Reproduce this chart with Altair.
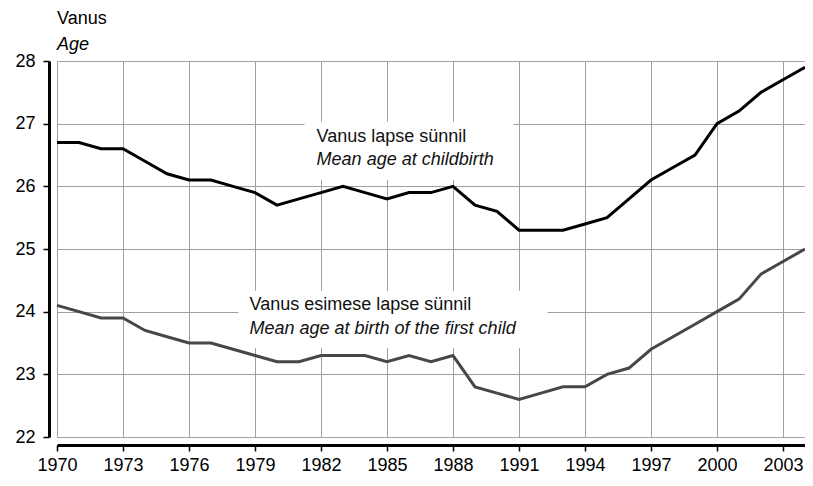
import altair as alt
import pandas as pd

years = list(range(1970, 2005))
childbirth = [26.7, 26.7, 26.6, 26.6, 26.4, 26.2, 26.1, 26.1, 26.0, 25.9,
              25.7, 25.8, 25.9, 26.0, 25.9, 25.8, 25.9, 25.9, 26.0, 25.7,
              25.6, 25.3, 25.3, 25.3, 25.4, 25.5, 25.8, 26.1, 26.3, 26.5,
              27.0, 27.2, 27.5, 27.7, 27.9]
first_child = [24.1, 24.0, 23.9, 23.9, 23.7, 23.6, 23.5, 23.5, 23.4, 23.3,
               23.2, 23.2, 23.3, 23.3, 23.3, 23.2, 23.3, 23.2, 23.3, 22.8,
               22.7, 22.6, 22.7, 22.8, 22.8, 23.0, 23.1, 23.4, 23.6, 23.8,
               24.0, 24.2, 24.6, 24.8, 25.0]

series_names = ["Vanus lapse sünnil", "Vanus esimese lapse sünnil"]
series_colors = ["#000000", "#474747"]

x_ticks = list(range(1970, 2004, 3))
y_ticks = [22, 23, 24, 25, 26, 27, 28]

# annotation label text (Estonian / English) and anchors in data space
label_est = ["Vanus lapse sünnil", "Vanus esimese lapse sünnil"]
label_eng = ["Mean age at childbirth", "Mean age at birth of the first child"]
label_year = [1981.8, 1978.75]
label_val_est = [26.70, 24.02]
label_val_eng = [26.34, 23.65]
box_x1 = [1981.25, 1978.25]
box_x2 = [1990.75, 1992.3]
box_y1 = [27.03, 24.33]
box_y2 = [26.10, 23.42]

df = pd.DataFrame({
    "year": years * 2,
    "value": childbirth + first_child,
    "series": [series_names[0]] * len(years) + [series_names[1]] * len(years),
})
lab = pd.DataFrame({
    "est": label_est, "eng": label_eng, "year": label_year,
    "v_est": label_val_est, "v_eng": label_val_eng,
    "bx1": box_x1, "bx2": box_x2, "by1": box_y1, "by2": box_y2,
})

FONT = "Liberation Sans"
FS = 18

xscale = alt.Scale(domain=[1970, 2004], nice=False, zero=False)
yscale = alt.Scale(domain=[22, 28], nice=False, zero=False)

base_axis = dict(
    domainColor="black", domainWidth=3, tickColor="black", tickWidth=1.5,
    tickSize=6, labelFont=FONT, labelFontSize=FS, labelColor="black",
    gridColor="#a0a0a0", gridWidth=1, title=None, format="d", labelFlush=False,
)

lines = alt.Chart(df).mark_line(strokeWidth=3, strokeJoin="miter").encode(
    x=alt.X("year:Q", scale=xscale,
            axis=alt.Axis(values=x_ticks, offset=8, labelPadding=5, **base_axis)),
    y=alt.Y("value:Q", scale=yscale,
            axis=alt.Axis(values=y_ticks, offset=8, labelPadding=8, **base_axis)),
    color=alt.Color("series:N", scale=alt.Scale(domain=series_names, range=series_colors),
                    legend=None),
)

boxes = alt.Chart(lab).mark_rect(color="white").encode(
    x=alt.X("bx1:Q", scale=xscale), x2="bx2:Q",
    y=alt.Y("by1:Q", scale=yscale), y2="by2:Q",
)

txt_est = alt.Chart(lab).mark_text(
    align="left", baseline="alphabetic", font=FONT, fontSize=FS, color="#111111"
).encode(x=alt.X("year:Q", scale=xscale), y=alt.Y("v_est:Q", scale=yscale), text="est:N")

txt_eng = alt.Chart(lab).mark_text(
    align="left", baseline="alphabetic", font=FONT, fontSize=FS, fontStyle="italic",
    color="#111111"
).encode(x=alt.X("year:Q", scale=xscale), y=alt.Y("v_eng:Q", scale=yscale), text="eng:N")

chart = alt.layer(lines, boxes, txt_est, txt_eng).properties(
    width=748, height=376,
    autosize=alt.AutoSizeParams(type="none"),
    padding={"left": 49, "top": 53, "right": 0, "bottom": 41},
    title=alt.Title("Vanus", subtitle="Age", anchor="start", frame="group",
                    font=FONT, fontSize=FS, fontWeight="normal", color="black",
                    subtitleFont=FONT, subtitleFontSize=FS, subtitleFontStyle="italic",
                    subtitleColor="black", subtitlePadding=8, offset=1, dy=3),
).configure_view(strokeWidth=0)

chart.save("out.html", embed_options={"renderer": "svg", "actions": False})
